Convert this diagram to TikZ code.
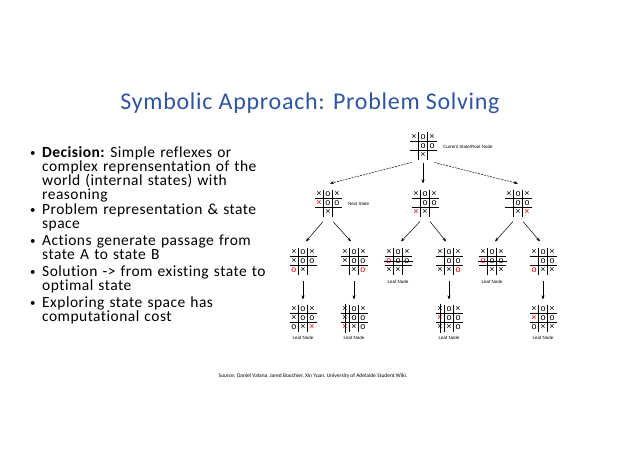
\documentclass[tikz,border=0pt]{standalone}
\usepackage{fontspec}
\setmainfont{Carlito}[Ligatures={NoCommon},LetterSpace=3]
\newfontfamily\titlefont{Carlito}[Ligatures={NoCommon},LetterSpace=3]
\newfontfamily\srcfont{Carlito}
\newfontfamily\symfont{Liberation Sans}
\usetikzlibrary{calc,arrows.meta}
\definecolor{titleblue}{RGB}{47,84,160}
\newcommand\symx{×}
\newcommand\symo{o}
\newcommand\symX{\textcolor{red}{×}}
\newcommand\symO{\textcolor{red}{o}}
\newcommand\symn{}
\newcommand\bl{\makebox[12pt][l]{\raisebox{1pt}{\scalebox{0.7}{•}}}}
\tikzset{
  boardbox/.style={minimum size=27pt,inner sep=0,outer sep=0},
  sym/.style={font=\symfont\fontsize{9}{9}\selectfont,inner sep=0},
  small/.style={font=\symfont\fontsize{4.5}{5}\selectfont,inner sep=1},
  arr/.style={-{Stealth[length=4pt,width=3pt]},line width=0.5pt},
  strike/.style={line width=0.8pt},
  bul/.style={anchor=north west,text width=250pt,align=left,inner sep=0,font=\fontsize{15.5}{14}\selectfont},
}
\newcommand\board[3]{%
  \node[boardbox] (#1) at (#2) {};
  \draw[line width=0.5pt] ($(#1.north west)+(9,0)$) -- ++(0,27)
        ($(#1.north west)+(18,0)$) -- ++(0,27)
        ($(#1.north west)+(0,9)$) -- ++(27,0)
        ($(#1.north west)+(0,18)$) -- ++(27,0);
  \foreach \s [count=\i from 0] in {#3}{%
    \pgfmathtruncatemacro\cc{mod(\i,3)}%
    \pgfmathtruncatemacro\rr{div(\i,3)}%
    \node[sym] at ($(#1.north west)+(\cc*9+4.5,\rr*9+4.3)$) {\csname sym\s\endcsname};
  }%
}
\begin{document}
\begin{tikzpicture}[x=1pt,y=-1pt]
\useasboundingbox (0,0) rectangle (638,452);
\node[font=\titlefont\fontsize{24}{26}\selectfont,text=titleblue] (title) at (310,103) {Symbolic Approach: Problem Solving};
\node[bul] (b1) at (30,146) {\bl\textbf{Decision:}~Simple reflexes or\\\hspace*{12pt}complex reprensentation of the\\\hspace*{12pt}world (internal states) with\\\hspace*{12pt}reasoning};
\node[bul] (b2) at (30,204) {\bl Problem representation \& state\\\hspace*{12pt}space};
\node[bul] (b3) at (30,235) {\bl Actions generate passage from\\\hspace*{12pt}state A to state B};
\node[bul] (b4) at (30,266) {\bl Solution -> from existing state to\\\hspace*{12pt}optimal state};
\node[bul] (b5) at (30,297) {\bl Exploring state space has\\\hspace*{12pt}computational cost};

\board{root}{423,146}{x,o,x,n,o,o,n,x,n}
\node[small,anchor=west] (lroot) at (442,147) {Current State/Root Node};
\board{A}{328,203}{x,o,x,X,o,o,n,x,n}
\node[small,anchor=west] (lA) at (347,204) {Next State};
\board{B}{425,203}{x,o,x,n,o,o,X,x,n}
\board{C}{518,203}{x,o,x,n,o,o,n,x,X}

\board{A1}{303,261}{x,o,x,x,o,o,O,x,n}
\board{A2}{354,261}{x,o,x,x,o,o,n,x,O}
\board{B1}{398,261}{x,o,x,O,o,o,x,x,n}
\board{B2}{449,261}{x,o,x,n,o,o,x,x,O}
\board{C1}{492,261}{x,o,x,O,o,o,n,x,x}
\board{C2}{543,261}{x,o,x,n,o,o,O,x,x}
\draw[strike] ($(B1.west)+(-1,0)$) -- ($(B1.east)+(1,0)$);
\draw[strike] ($(C1.west)+(-1,0)$) -- ($(C1.east)+(1,0)$);
\node[small] (lB1) at (398,282) {Leaf Node};
\node[small] (lC1) at (492,282) {Leaf Node};

\board{A1a}{303,318}{x,o,x,x,o,o,o,x,X}
\board{A2a}{354,318}{x,o,x,x,o,o,X,x,o}
\board{B2a}{449,318}{x,o,x,X,o,o,x,x,o}
\board{C2a}{543,318}{x,o,x,X,o,o,o,x,x}
\draw[strike] ($(A2a.north west)+(4.5,-1)$) -- ($(A2a.south west)+(4.5,1)$);
\draw[strike] ($(B2a.north west)+(4.5,-1)$) -- ($(B2a.south west)+(4.5,1)$);
\foreach \n in {A1a,A2a,B2a,C2a}{\node[small] at ($(\n.south)+(0,6)$) {Leaf Node};}

\draw[arr,dashed,dash pattern=on 2pt off 1pt] ($(root.south west)+(2,3)$) -- ($(A.north)+(2,-6)$);
\draw[arr] ($(root.south)+(0,3)$) -- ($(B.north)+(-2,-6)$);
\draw[arr,dashed,dash pattern=on 2pt off 1pt] ($(root.south east)+(-2,3)$) -- ($(C.north)+(0,-6)$);
\foreach \p/\l/\r in {A/A1/A2,B/B1/B2,C/C1/C2}{
  \draw[arr] ($(\p.south)+(-5,5)$) -- ($(\l.north)+(3,-6)$);
  \draw[arr] ($(\p.south)+(5,5)$) -- ($(\r.north)+(-3,-6)$);
}
\foreach \a/\b in {A1/A1a,A2/A2a,B2/B2a,C2/C2a}{
  \draw[arr] ($(\a.south)+(0,6)$) -- ($(\b.north)+(0,-5)$);
}
\node[font=\srcfont\fontsize{5.5}{6}\selectfont] (src) at (313,376) {Source: Daniel Valana, Jared Bouchier, Xin Yuan, University of Adelaide Student Wiki.};
\end{tikzpicture}
\end{document}
